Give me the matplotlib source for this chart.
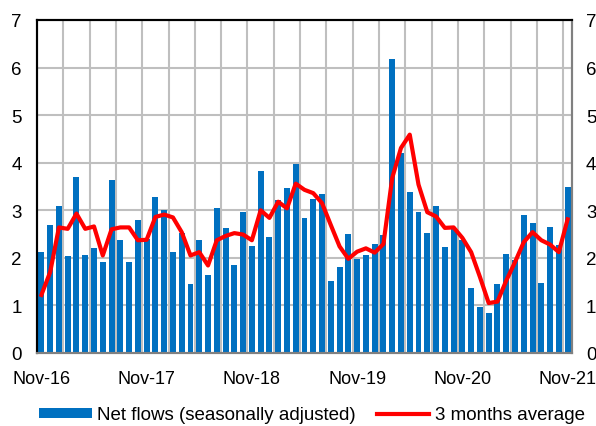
import matplotlib
matplotlib.use("Agg")
import matplotlib.pyplot as plt
import numpy as np
from matplotlib.lines import Line2D
from matplotlib.patches import Patch

plt.rcParams['font.family'] = ['Liberation Sans', 'DejaVu Sans']

tick_labels = ["Nov-16", "Nov-17", "Nov-18", "Nov-19", "Nov-20", "Nov-21"]

net_flows = [2.12, 2.69, 3.08, 2.03, 3.70, 2.06, 2.21, 1.92, 3.63, 2.38,
             1.91, 2.80, 2.40, 3.28, 3.01, 2.12, 2.53, 1.45, 2.38, 1.64,
             3.05, 2.63, 1.86, 2.96, 2.25, 3.83, 2.44, 3.22, 3.46, 3.97,
             2.83, 3.23, 3.34, 1.52, 1.81, 2.51, 1.97, 2.05, 2.30, 2.48,
             6.18, 4.21, 3.38, 2.97, 2.52, 3.09, 2.22, 2.60, 2.38, 1.36,
             0.96, 0.85, 1.45, 2.08, 1.95, 2.90, 2.74, 1.48, 2.64, 2.26,
             3.49]

avg_3m = [1.22, 1.70, 2.64, 2.61, 2.93, 2.61, 2.66, 2.05, 2.60, 2.64,
          2.64, 2.37, 2.38, 2.86, 2.91, 2.85, 2.54, 2.05, 2.12, 1.84,
          2.37, 2.46, 2.52, 2.49, 2.37, 3.00, 2.84, 3.18, 3.04, 3.56,
          3.43, 3.36, 3.15, 2.69, 2.24, 1.98, 2.13, 2.20, 2.11, 2.29,
          3.68, 4.31, 4.59, 3.54, 2.96, 2.87, 2.63, 2.64, 2.42, 2.12,
          1.60, 1.05, 1.08, 1.52, 1.91, 2.33, 2.54, 2.37, 2.28, 2.12,
          2.81]

x = np.arange(len(net_flows))
FS = 13.5

fig = plt.figure(figsize=(5.96, 4.27), dpi=100)
ax = fig.add_axes([37/596, 1-354/427, (572-37)/596, (354-21)/427])

grid_c = '#BFBFBF'
for v in range(1, 7):
    ax.axhline(v, color=grid_c, lw=1.5, zorder=0)
for g in np.arange(2.5, 60, 3):
    ax.axvline(g, color=grid_c, lw=1.5, zorder=0)

ax.bar(x, net_flows, width=0.68, color='#0070C0', zorder=2,
       label='Net flows (seasonally adjusted)')
ax.plot(x, avg_3m, color='#FF0000', lw=3, zorder=3, solid_joinstyle='round',
        label='3 months average')

ax.set_xlim(-0.5, len(net_flows) - 0.5)
ax.set_ylim(0, 7)
ax.set_yticks(range(0, 8))
ax.set_xticks(x[::12])
ax.set_xticklabels(tick_labels)
ax.tick_params(axis='both', length=0, labelsize=FS)
ax.tick_params(axis='x', pad=12, labelsize=13)
ax.tick_params(axis='y', pad=11)

ax2 = ax.twinx()
ax2.set_ylim(0, 7)
ax2.set_yticks(range(0, 8))
ax2.tick_params(axis='y', length=0, labelsize=FS, pad=10)

for a in (ax, ax2):
    a.spines['left'].set_color('black')
    a.spines['top'].set_color('black')
    a.spines['right'].set_color('#808080')
    a.spines['bottom'].set_color('#808080')
    for s in a.spines.values():
        s.set_linewidth(1.5)

handles = [Patch(facecolor='#0070C0', edgecolor='none'),
           Line2D([], [], color='#FF0000', lw=3)]
labels = ['Net flows (seasonally adjusted)', '3 months average']
fig.legend(handles, labels, loc='center', bbox_to_anchor=(312/596, 1 - 416/427),
           ncol=2, frameon=False, fontsize=FS, handlelength=2.8,
           handletextpad=0.3, columnspacing=1.1, handleheight=0.5)

fig.savefig('out.png', dpi=100)
